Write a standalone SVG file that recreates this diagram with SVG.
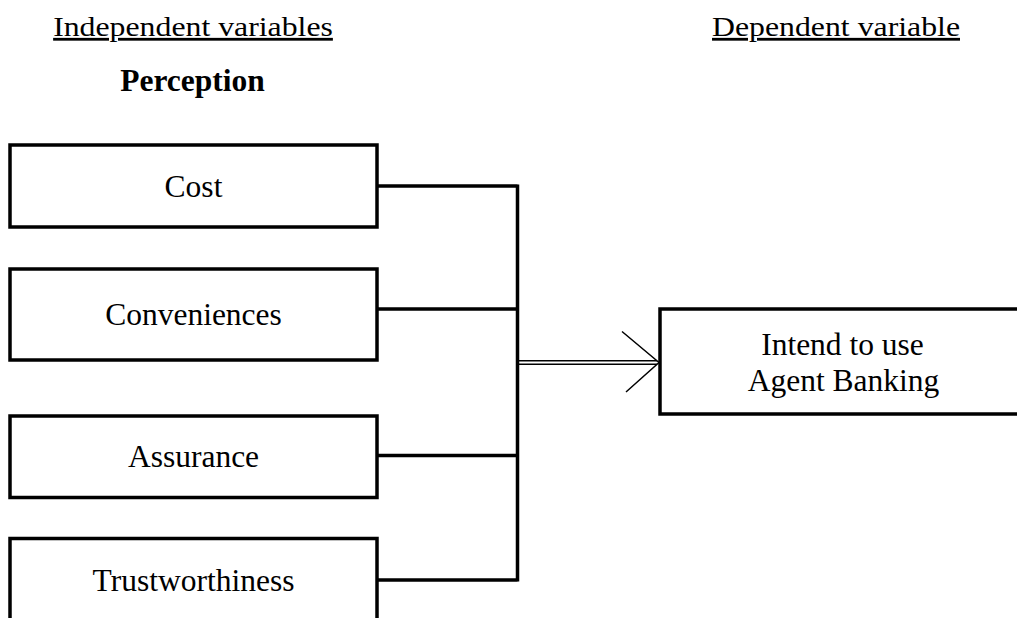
<svg xmlns="http://www.w3.org/2000/svg" width="1017" height="618" viewBox="0 0 1017 618">
<style>
.box{fill:#fff;stroke:#000;stroke-width:3.5}
.t{font-family:"Liberation Serif","Times New Roman",serif;font-size:31.5px;fill:#000;text-anchor:middle}
.h{text-decoration:underline;font-size:31.8px}
.b{font-weight:bold}
.c{fill:none;stroke:#000;stroke-width:3.5}
.d{fill:none;stroke:#000;stroke-width:1.5}
</style>
<rect width="1017" height="618" fill="#fff"/>
<g id="headers">
<text class="t h" transform="translate(193,36) scale(1,0.88)" x="0" y="0">Independent variables</text>
<text class="t h" transform="translate(836,36) scale(1,0.88)" x="0" y="0">Dependent variable</text>
<text class="t b" x="192.5" y="90.5">Perception</text>
</g>
<g id="connectors">
<path class="c" d="M377 186 H517.5 M377 309 H517.5 M377 455.5 H517.5 M377 580 H517.5 M517.5 184.5 V581.5"/>
<path class="d" d="M519 360.8 H657 M519 364.3 H657"/>
<path class="d" d="M622 331.5 L659 362.5 L626 392"/>
</g>
<g id="cost">
<rect class="box" x="10" y="145" width="367" height="82"/>
<text class="t" x="193.5" y="196.5">Cost</text>
</g>
<g id="conveniences">
<rect class="box" x="10" y="269" width="367" height="91"/>
<text class="t" x="193.5" y="325">Conveniences</text>
</g>
<g id="assurance">
<rect class="box" x="10" y="416" width="367" height="81.5"/>
<text class="t" x="193.5" y="467">Assurance</text>
</g>
<g id="trustworthiness">
<rect class="box" x="10" y="538.5" width="367" height="100"/>
<text class="t" x="193.5" y="591">Trustworthiness</text>
</g>
<g id="intend">
<rect class="box" x="660" y="309" width="380" height="105"/>
<text class="t" x="842.5" y="355">Intend to use</text>
<text class="t" x="843.5" y="391">Agent Banking</text>
</g>
</svg>
